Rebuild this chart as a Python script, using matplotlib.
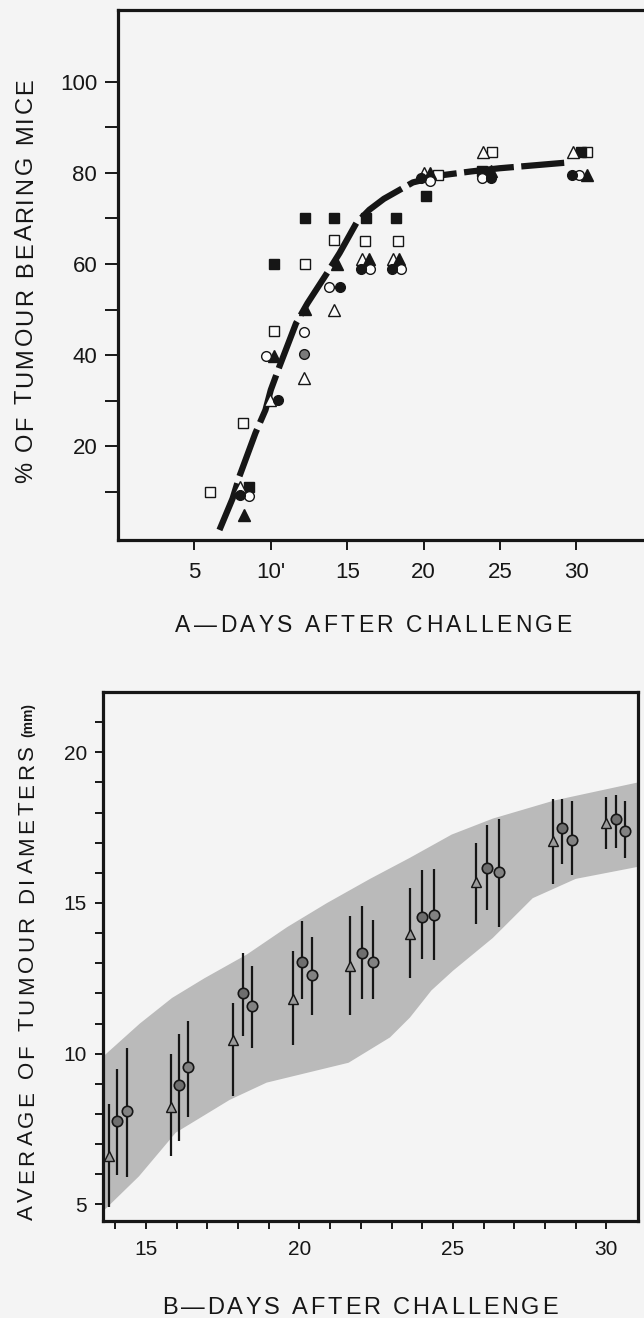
import matplotlib
matplotlib.use('Agg')
import matplotlib.pyplot as plt
from matplotlib.font_manager import FontProperties
from matplotlib.textpath import TextToPath

FONT = 'Liberation Sans'
plt.rcParams['font.family'] = [FONT, 'DejaVu Sans']

W, H, DPI = 644, 1318, 100
PAPER = '#f4f4f4'
INK = '#161616'

# ---- panel A: % of tumour bearing mice, one pair of lists per symbol
fsq_x = [8.6, 10.2, 12.24, 14.14, 16.2, 18.2, 20.13, 23.82, 30.33]
fsq_y = [11.2, 60, 70, 70, 70, 70, 75, 80.3, 84.6]
osq_x = [6.05, 8.18, 10.2, 12.24, 14.16, 16.14, 18.3, 20.94, 24.47, 30.7]
osq_y = [10, 25.2, 45.3, 60, 65.3, 65, 65, 79.5, 84.6, 84.6]
ftr_x = [8.25, 10.2, 12.24, 14.3, 16.4, 18.4, 20.4, 24.4, 30.7]
ftr_y = [5.05, 39.9, 50.1, 60, 61, 61, 80, 80.3, 79.5]
otr_x = [7.96, 9.93, 12.2, 14.16, 16.0, 18.0, 20.0, 23.86, 29.8]
otr_y = [11.1, 30.3, 35.1, 50, 61, 61, 80, 84.6, 84.6]
fci_x = [7.96, 10.5, 14.5, 15.9, 17.9, 19.85, 24.4, 29.7]
fci_y = [9.45, 30.2, 54.9, 58.9, 58.9, 78.8, 78.8, 79.5]
oci_x = [8.57, 9.7, 12.2, 13.84, 16.5, 18.5, 20.4, 23.8, 30.2]
oci_y = [9.2, 39.9, 45.1, 54.9, 58.9, 58.9, 78.1, 78.8, 79.5]
gci_x = [12.2]
gci_y = [40.2]

# hand drawn trend line
curve_x = [6.64, 7.5, 7.94, 9.0, 9.65, 10.0, 10.56, 11.65, 12.4, 13.6, 14.5,
           15.6, 16.45, 17.4, 18.4, 19.3, 21.25, 23.1, 24.96, 29.2]
curve_y = [1.7, 8.6, 13.4, 23, 28, 32.4, 37.5, 47, 51.4, 57.6, 62.4,
           69, 71.9, 74.3, 76.2, 77.9, 79.5, 80.3, 81, 82.2]

a_xticks = [5, 10, 15, 20, 25, 30]
a_xlabels = ['5', "10'", '15', '20', '25', '30']
a_yticks = [10, 20, 30, 40, 50, 60, 70, 80, 90, 100]
a_ylabels = ['', '20', '', '40', '', '60', '', '80', '', '100']

# ---- panel B: average tumour diameter (mm) with ranges
tri_x = [13.78, 15.83, 17.85, 19.8, 21.65, 23.6, 25.75, 28.26, 29.98]
tri_y = [6.6, 8.24, 10.47, 11.8, 12.9, 13.97, 15.7, 17.05, 17.66]
tri_lo = [4.93, 6.62, 8.6, 10.3, 11.3, 12.5, 14.3, 15.64, 16.8]
tri_hi = [8.34, 10.0, 11.67, 13.4, 14.57, 15.5, 17.0, 18.45, 18.5]

c1_x = [14.05, 16.09, 18.15, 20.07, 22.05, 24.0, 26.12, 28.57, 30.3]
c1_y = [7.78, 8.97, 12.0, 13.05, 13.35, 14.55, 16.16, 17.5, 17.78]
c1_lo = [5.96, 7.1, 10.6, 11.8, 11.8, 13.15, 14.77, 16.3, 16.83]
c1_hi = [9.5, 10.67, 13.35, 14.4, 14.9, 16.1, 17.58, 18.45, 18.57]

c2_x = [14.39, 16.37, 18.45, 20.4, 22.4, 24.4, 26.5, 28.87, 30.6]
c2_y = [8.11, 9.55, 11.58, 12.6, 13.05, 14.6, 16.03, 17.1, 17.4]
c2_lo = [5.9, 7.9, 10.2, 11.3, 11.8, 13.1, 14.2, 15.93, 16.5]
c2_hi = [10.2, 11.07, 12.9, 13.88, 14.44, 16.14, 17.8, 18.4, 18.4]

band_up_x = [13.63, 14.8, 15.85, 16.9, 18.3, 19.6, 20.9, 22.3, 23.6, 24.96, 26.3, 28.3, 31.03]
band_up_y = [9.93, 11.0, 11.85, 12.5, 13.3, 14.2, 15.0, 15.8, 16.5, 17.27, 17.8, 18.4, 19.0]
band_lo_x = [13.63, 14.77, 15.97, 17.73, 18.93, 21.6, 22.95, 23.6, 24.3, 25.0, 26.3, 27.6, 29.0, 31.03]
band_lo_y = [4.8, 5.93, 7.38, 8.47, 9.04, 9.7, 10.54, 11.2, 12.1, 12.75, 13.84, 15.16, 15.8, 16.2]

b_xticks = [15, 20, 25, 30]
b_yticks = [5, 10, 15, 20]


t2p = TextToPath()


def spaced(fig, s, x0, y0, length, size, vertical=False):
    # the print uses wide letter spacing, so lay the letters out one by one
    # x0, y0 in pixels from the top left; y0 is the baseline
    prop = FontProperties(family=FONT, size=size)
    base = t2p.get_text_width_height_descent('XX', prop, ismath=False)[0]
    adv = []
    for c in s:
        w = t2p.get_text_width_height_descent('X' + c + 'X', prop, ismath=False)[0]
        adv.append((w - base) * DPI / 72.0)
    gap = (length - sum(adv)) / (len(s) - 1)
    pos = 0.0
    for c, a in zip(s, adv):
        if vertical:
            fig.text(x0 / W, 1 - (y0 - pos) / H, c, fontproperties=prop, color=INK,
                     rotation=90, rotation_mode='anchor', ha='left', va='baseline')
        else:
            fig.text((x0 + pos) / W, 1 - y0 / H, c, fontproperties=prop, color=INK,
                     ha='left', va='baseline')
        pos += a + gap


fig = plt.figure(figsize=(W / DPI, H / DPI), dpi=DPI, facecolor=PAPER)

# ---------------- panel A
ax1 = fig.add_axes([118 / W, 1 - 540 / H, (652 - 118) / W, (540 - 10) / H], facecolor=PAPER)
ax1.plot(curve_x, curve_y, color=INK, lw=4.5, dashes=(8, 1.2), dash_capstyle='butt', zorder=2)

ms = 7
ax1.plot(osq_x, osq_y, 's', ms=ms, mfc='#fbfbfb', mec=INK, mew=1.0, zorder=3)
ax1.plot(fsq_x, fsq_y, 's', ms=ms, mfc=INK, mec=INK, mew=1.0, zorder=3)
ax1.plot(otr_x, otr_y, '^', ms=ms + 1, mfc='#fbfbfb', mec=INK, mew=1.0, zorder=3)
ax1.plot(ftr_x, ftr_y, '^', ms=ms + 1, mfc=INK, mec=INK, mew=1.0, zorder=3)
ax1.plot(oci_x, oci_y, 'o', ms=ms, mfc='#fbfbfb', mec=INK, mew=1.0, zorder=3)
ax1.plot(fci_x, fci_y, 'o', ms=ms, mfc=INK, mec=INK, mew=1.0, zorder=3)
ax1.plot(gci_x, gci_y, 'o', ms=ms, mfc='#7a7a7a', mec=INK, mew=1.0, zorder=3)

ax1.set_xlim(0, (652 - 118) / 15.28)
ax1.set_ylim(-0.5, 115.7)
ax1.set_xticks(a_xticks)
ax1.set_xticklabels(a_xlabels)
ax1.set_yticks(a_yticks)
ax1.set_yticklabels(a_ylabels)
ax1.tick_params(axis='y', direction='out', length=9.5, width=1.4, pad=5.5,
                labelsize=16, colors=INK)
ax1.tick_params(axis='x', direction='out', length=7.5, width=1.4, pad=8,
                labelsize=16, colors=INK)
for sp in ax1.spines.values():
    sp.set_linewidth(2.3)
    sp.set_color(INK)

# ---------------- panel B
ax2 = fig.add_axes([103 / W, 1 - 1221 / H, (638 - 103) / W, (1221 - 692) / H], facecolor=PAPER)
ax2.fill(band_up_x + band_lo_x[::-1], band_up_y + band_lo_y[::-1],
         color='#bababa', lw=0, zorder=1)

ax2.vlines(tri_x, tri_lo, tri_hi, color=INK, lw=1.6, zorder=2)
ax2.vlines(c1_x, c1_lo, c1_hi, color=INK, lw=1.6, zorder=2)
ax2.vlines(c2_x, c2_lo, c2_hi, color=INK, lw=1.6, zorder=2)
ax2.plot(tri_x, tri_y, '^', ms=6.5, mfc='#9a9a9a', mec=INK, mew=1.0, zorder=3)
ax2.plot(c1_x, c1_y, 'o', ms=7.5, mfc='#6e6e6e', mec=INK, mew=1.2, zorder=3)
ax2.plot(c2_x, c2_y, 'o', ms=7.5, mfc='#828282', mec=INK, mew=1.2, zorder=3)

ax2.set_xlim(13.6, 31.03)
ax2.set_ylim(4.45, 22)
ax2.set_xticks(b_xticks)
ax2.set_xticks(range(14, 31), minor=True)
ax2.set_yticks(b_yticks)
ax2.set_yticks(range(5, 22), minor=True)
ax2.tick_params(axis='y', which='both', direction='out', length=6, width=1.4, pad=5.5,
                labelsize=15, colors=INK)
ax2.tick_params(axis='x', which='both', direction='out', length=6, width=1.4, pad=7.5,
                labelsize=15, colors=INK)
for sp in ax2.spines.values():
    sp.set_linewidth(2.3)
    sp.set_color(INK)

# ---------------- axis titles
spaced(fig, '% OF TUMOUR BEARING MICE', 32, 483, 405, 17, vertical=True)
spaced(fig, 'A\u2014DAYS AFTER CHALLENGE', 175, 632, 396, 16.5)
spaced(fig, 'AVERAGE OF TUMOUR DIAMETERS', 33, 1220, 475, 16, vertical=True)
fig.text(32 / W, 1 - 737 / H, '(mm)', fontsize=10, fontweight='bold', color=INK,
         rotation=90, rotation_mode='anchor', ha='left', va='baseline')
spaced(fig, 'B\u2014DAYS AFTER CHALLENGE', 162, 1314, 396, 17)

fig.savefig('out.png', dpi=DPI, facecolor=PAPER)
